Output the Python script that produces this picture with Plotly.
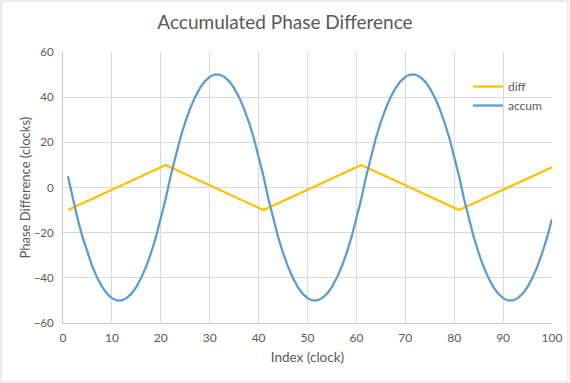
import plotly.graph_objects as go

index = list(range(1, 101))

diff = [
    -10, -9, -8, -7, -6, -5, -4, -3, -2, -1, 0, 1, 2, 3, 4, 5, 6, 7, 8, 9, 10,
    9, 8, 7, 6, 5, 4, 3, 2, 1, 0, -1, -2, -3, -4, -5, -6, -7, -8, -9, -10,
    -9, -8, -7, -6, -5, -4, -3, -2, -1, 0, 1, 2, 3, 4, 5, 6, 7, 8, 9, 10,
    9, 8, 7, 6, 5, 4, 3, 2, 1, 0, -1, -2, -3, -4, -5, -6, -7, -8, -9, -10,
    -9, -8, -7, -6, -5, -4, -3, -2, -1, 0, 1, 2, 3, 4, 5, 6, 7, 8, 9,
]

accum = [
    5, -5, -14, -22, -29, -35, -40, -44, -47, -49, -50, -50, -49, -47, -44, -40, -35, -29, -22, -14,
    -5, 5, 14, 22, 29, 35, 40, 44, 47, 49, 50, 50, 49, 47, 44, 40, 35, 29, 22, 14,
    5, -5, -14, -22, -29, -35, -40, -44, -47, -49, -50, -50, -49, -47, -44, -40, -35, -29, -22, -14,
    -5, 5, 14, 22, 29, 35, 40, 44, 47, 49, 50, 50, 49, 47, 44, 40, 35, 29, 22, 14,
    5, -5, -14, -22, -29, -35, -40, -44, -47, -49, -50, -50, -49, -47, -44, -40, -35, -29, -22, -14,
]

x_ticks = [0, 10, 20, 30, 40, 50, 60, 70, 80, 90, 100]
y_ticks = [-60, -40, -20, 0, 20, 40, 60]

W, H = 570, 383
ML, MR, MT, MB = 63, 18, 52, 60
PW, PH = W - ML - MR, H - MT - MB

FONT = "Lato"
TXT = "#595959"
GRID = "#D9D9D9"

fig = go.Figure()
fig.add_trace(go.Scatter(x=index, y=diff, name="diff", mode="lines",
                         line=dict(color="#FFC000", width=2.25)))
fig.add_trace(go.Scatter(x=index, y=accum, name="accum", mode="lines",
                         line=dict(color="#5B9BD5", width=2.25)))

fig.update_layout(
    width=W, height=H,
    margin=dict(l=ML, r=MR, t=MT, b=MB, autoexpand=False),
    paper_bgcolor="white", plot_bgcolor="white",
    font=dict(family=FONT, size=12, color=TXT),
    title=dict(text="Accumulated Phase Difference", x=0.5, xref="container",
               xanchor="center", y=1 - 22 / H, yref="container", yanchor="middle",
               font=dict(family=FONT, size=19, color=TXT)),
    showlegend=True,
    legend=dict(x=(468 - ML) / PW, y=(PH - 20) / PH, xanchor="left", yanchor="top",
                bgcolor="rgba(0,0,0,0)", font=dict(family=FONT, size=12, color=TXT),
                tracegroupgap=0, itemwidth=30),
    xaxis=dict(range=[0, 100], tickvals=x_ticks, showgrid=True, gridcolor=GRID, gridwidth=1,
               showline=True, linecolor="#C8C8C8", linewidth=1, zeroline=False,
               automargin=False,
               ticks="outside", ticklen=4, tickcolor="rgba(0,0,0,0)",
               title=dict(text="Index (clock)", standoff=8,
                          font=dict(family=FONT, size=13.5, color=TXT)),
               tickfont=dict(family=FONT, size=12, color=TXT)),
    yaxis=dict(range=[-60, 60], tickvals=y_ticks, showgrid=True, gridcolor=GRID, gridwidth=1,
               showline=True, linecolor="#C8C8C8", linewidth=1, zeroline=False,
               automargin=False,
               ticks="outside", ticklen=6, tickcolor="rgba(0,0,0,0)",
               tickfont=dict(family=FONT, size=11.5, color=TXT)),
    annotations=[dict(text="Phase Difference (clocks)", xref="paper", yref="paper",
                      x=(24 - ML) / PW, y=0.5, xanchor="center", yanchor="middle",
                      textangle=-90, showarrow=False,
                      font=dict(family=FONT, size=13, color=TXT))],
    shapes=[dict(type="rect", xref="paper", yref="paper",
                 x0=(1 - ML) / PW, x1=(568 - ML) / PW,
                 y0=(1 - MB) / PH, y1=(382 - MB) / PH,
                 line=dict(color="#D9D9D9", width=1), fillcolor="rgba(0,0,0,0)", layer="below")],
)

fig.write_html(
    "out.html",
    config={"displayModeBar": False},
    post_script="document.body.style.margin='0';document.body.style.padding='0';"
                "document.documentElement.style.overflow='hidden';",
)
